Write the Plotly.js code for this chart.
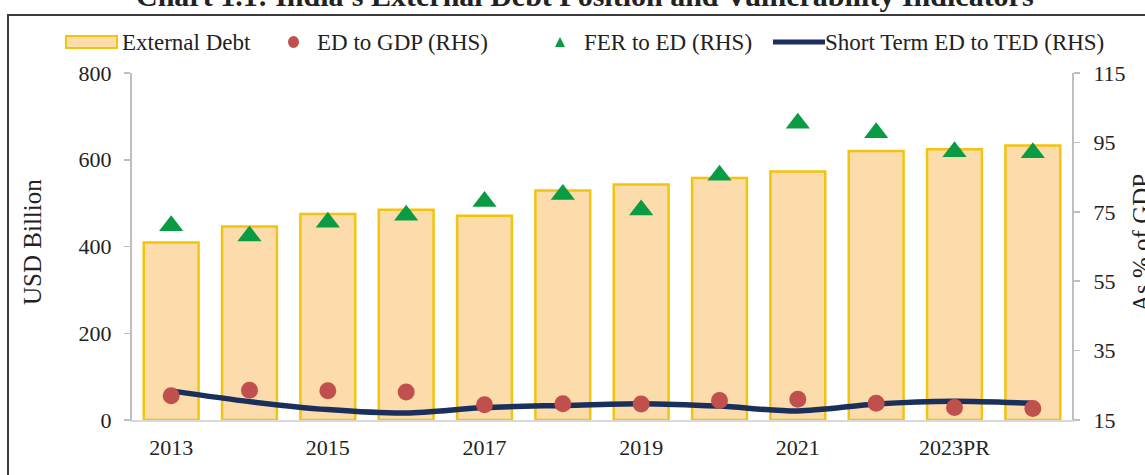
<!DOCTYPE html>
<html>
<head>
<meta charset="utf-8">
<script src="https://cdn.plot.ly/plotly-3.0.1.min.js"></script>
<style>
  html, body { margin: 0; padding: 0; background: #ffffff; }
  #chart { width: 1145px; height: 475px; }
</style>
</head>
<body>
<div id="chart"></div>
<script>
// ---- Data ----
const categories = ["2013", "2014", "2015", "2016", "2017", "2018", "2019", "2020", "2021", "2022", "2023PR", "Sep-23P"];
const externalDebt = [409, 446, 475, 485, 471, 529, 543, 558, 573, 620, 624, 633];          // USD Billion (LHS)
const edToGdp = [22.0, 23.6, 23.4, 23.1, 19.4, 19.7, 19.6, 20.6, 21.0, 19.8, 18.6, 18.3];       // % (RHS)
const ferToEd = [71.0, 68.0, 72.0, 74.0, 78.0, 80.0, 75.5, 85.5, 100.5, 97.8, 92.3, 92.0];    // % (RHS)
const shortTermToTed = [23.4, 20.3, 18.0, 17.0, 18.6, 19.2, 19.7, 19.0, 17.6, 19.6, 20.4, 19.8]; // % (RHS)
const tickLabels = categories.filter((c, i) => i % 2 === 0);

const seriesNames = ["External Debt", "ED to GDP (RHS)", "FER to ED (RHS)", "Short Term ED to TED (RHS)"];
const titleText = "Chart 1.1: India's External Debt Position and Vulnerability Indicators";

// ---- Styling ----
const FONT = "Liberation Serif, 'Times New Roman', Times, serif";
const barFill = "#fcdcab";
const barLine = "#f2c40f";
const red = "#c0504d";
const green = "#0a9b45";
const navy = "#1b2f5c";
const axisGrey = "#bfbfbf";

const W = 1145, H = 475;
const M = {l: 132, r: 73, t: 73, b: 55};
const PW = W - M.l - M.r, PH = H - M.t - M.b;
const px = x => (x - M.l) / PW;          // pixel -> paper x
const py = y => (H - M.b - y) / PH;      // pixel -> paper y

const traces = [
  {
    type: "bar", name: seriesNames[0], x: categories, y: externalDebt, yaxis: "y",
    marker: {color: barFill, line: {color: barLine, width: 2.5}},
    hoverinfo: "x+y"
  },
  {
    type: "scatter", mode: "lines", name: seriesNames[3], x: categories, y: shortTermToTed, yaxis: "y2",
    line: {color: navy, width: 5.5, shape: "spline", smoothing: 0.8}
  },
  {
    type: "scatter", mode: "markers", name: seriesNames[1], x: categories, y: edToGdp, yaxis: "y2",
    marker: {color: red, size: 17, symbol: "circle"}
  },
  {
    type: "scatter", mode: "markers", name: seriesNames[2], x: categories, y: ferToEd, yaxis: "y2",
    marker: {color: green, size: 21, symbol: "triangle-up"}
  }
];

const legendY = 42;
const shapes = [
  // outer frame (top and left edges visible in reference)
  {type: "path", xref: "paper", yref: "paper",
   path: `M ${px(1160)} ${py(15)} L ${px(8)} ${py(15)} L ${px(8)} ${py(490)}`,
   line: {color: "#3a3a3a", width: 2}},
  // legend: bar swatch
  {type: "rect", xref: "paper", yref: "paper", x0: px(66), x1: px(117), y0: py(48), y1: py(36),
   fillcolor: barFill, line: {color: barLine, width: 2}},
  // legend: red dot
  {type: "circle", xref: "paper", yref: "paper", x0: px(288), x1: px(299), y0: py(48), y1: py(36),
   fillcolor: red, line: {color: red, width: 0}},
  // legend: green triangle
  {type: "path", xref: "paper", yref: "paper",
   path: `M ${px(555)} ${py(47)} L ${px(565)} ${py(47)} L ${px(560)} ${py(37)} Z`,
   fillcolor: green, line: {color: green, width: 0}},
  // legend: navy line
  {type: "line", xref: "paper", yref: "paper", x0: px(773), x1: px(825), y0: py(legendY), y1: py(legendY),
   line: {color: navy, width: 5}}
];

const legendFont = {family: FONT, size: 23, color: "#222"};
const annotations = [
  {text: titleText, xref: "paper", yref: "paper", x: px(585), y: py(14), xanchor: "center", yanchor: "bottom",
   showarrow: false, font: {family: FONT, size: 30, color: "#222", weight: "bold"}},
  {text: seriesNames[0], xref: "paper", yref: "paper", x: px(120), y: py(legendY), xanchor: "left", yanchor: "middle", showarrow: false, font: legendFont},
  {text: seriesNames[1], xref: "paper", yref: "paper", x: px(315), y: py(legendY), xanchor: "left", yanchor: "middle", showarrow: false, font: legendFont},
  {text: seriesNames[2], xref: "paper", yref: "paper", x: px(582), y: py(legendY), xanchor: "left", yanchor: "middle", showarrow: false, font: legendFont},
  {text: seriesNames[3], xref: "paper", yref: "paper", x: px(823), y: py(legendY), xanchor: "left", yanchor: "middle", showarrow: false, font: legendFont},
  // axis titles
  {text: "USD Billion", xref: "paper", yref: "paper", x: px(32), y: py(242), xanchor: "center", yanchor: "middle",
   textangle: -90, showarrow: false, font: {family: FONT, size: 25, color: "#222"}},
  {text: "As % of GDP", xref: "paper", yref: "paper", x: px(1141), y: py(243), xanchor: "center", yanchor: "middle",
   textangle: -90, showarrow: false, font: {family: FONT, size: 25, color: "#222"}}
];

const tickFont = {family: FONT, size: 22, color: "#222"};
const layout = {
  width: W, height: H,
  margin: M,
  paper_bgcolor: "#ffffff", plot_bgcolor: "#ffffff",
  showlegend: false,
  bargap: 0.3,
  xaxis: {
    type: "category", tickmode: "array", tickvals: tickLabels, ticktext: tickLabels,
    showline: true, linecolor: "#d9d9d9", linewidth: 2, ticks: "", showgrid: false, zeroline: false,
    tickfont: tickFont, ticklabelstandoff: 7, range: [-0.5, categories.length - 0.5], fixedrange: true
  },
  yaxis: {
    range: [0, 800], dtick: 200, tick0: 0, showgrid: false, zeroline: false,
    showline: true, linecolor: axisGrey, linewidth: 2, ticks: "outside", ticklen: 6, tickcolor: axisGrey, tickwidth: 1.5,
    tickfont: tickFont, ticklabelstandoff: 8
  },
  yaxis2: {
    range: [15, 115], dtick: 20, tick0: 15, overlaying: "y", side: "right", showgrid: false, zeroline: false,
    showline: true, linecolor: axisGrey, linewidth: 2, ticks: "outside", ticklen: 6, tickcolor: axisGrey, tickwidth: 1.5,
    tickfont: tickFont, ticklabelstandoff: 9
  },
  shapes: shapes,
  annotations: annotations
};

Plotly.newPlot("chart", traces, layout, {displayModeBar: false, staticPlot: true});
</script>
</body>
</html>
